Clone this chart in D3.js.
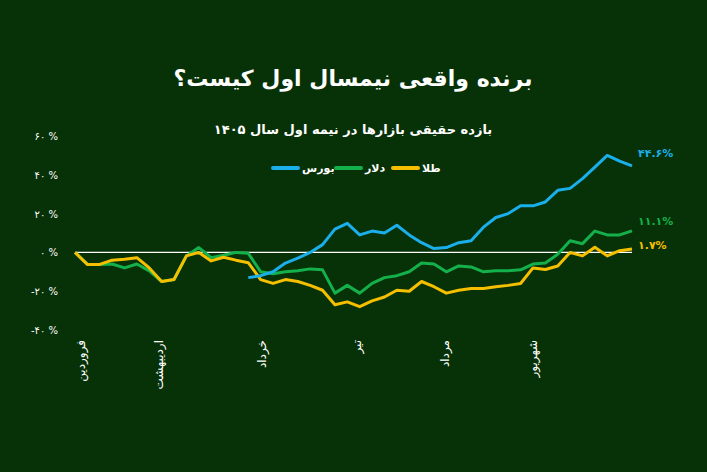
<!DOCTYPE html>
<html><head><meta charset="utf-8">
<script src="https://cdn.jsdelivr.net/npm/d3@7"></script>
<style>body{margin:0;background:#073106;}svg{display:block;font-family:"DejaVu Sans",sans-serif;}</style>
</head><body><svg id="c" width="707" height="472"></svg>
<script>
const gold=[0,-6.2,-6.2,-4,-3.5,-2.7,-8,-15,-14,-1.8,0,-4.4,-2.5,-4,-5.3,-14,-16,-14,-15,-17,-19.5,-27,-25.5,-28,-25,-23,-19.5,-20,-15,-17.7,-21,-19.5,-18.6,-18.6,-17.7,-17,-16,-8,-8.8,-7,0,-1.8,2.7,-1.8,0.9,1.7];
const dollar=[0,-6.2,-6.2,-6,-8,-6,-9.5,-15,-14,-1.8,2.5,-2.7,-1.5,0,-0.5,-10,-11,-10,-9.5,-8.5,-9,-21,-17,-21,-16,-13,-12,-10,-5.5,-6,-10,-7,-7.5,-10,-9.5,-9.5,-9,-6,-5.5,-1,6,4.5,11,9,9,11.1];
const bourseStart=14;
const bourse=[-13,-12,-10,-5.5,-3,0,4,12,15,9,11,10,14,9,5,2,2.5,5,6,13,18,20,24,24,26,32,33,38,44,50,47,44.6];
const yTicks=[60,40,20,0,-20,-40];
const months=[{n:"فروردین",i:0.5},{n:"اردیبهشت",i:6.8},{n:"خرداد",i:15.1},{n:"تیر",i:22.8},{n:"مرداد",i:29.9},{n:"شهریور",i:37.0}];
const fa=s=>String(s).replace(/\d/g,d=>"۰۱۲۳۴۵۶۷۸۹"[d]);
const svg=d3.select("#c");
svg.append("rect").attr("width",707).attr("height",472).attr("fill","#073106");
const x=d3.scaleLinear().domain([0,45]).range([75,632]);
const y=d3.scaleLinear().domain([-40,60]).range([330,136]);
svg.append("text").attr("x",353).attr("y",86).attr("text-anchor","middle").attr("fill","#fff").attr("font-size",22).attr("font-weight","bold").text("برنده واقعی نیمسال اول کیست؟");
svg.append("text").attr("x",353).attr("y",134).attr("text-anchor","middle").attr("fill","#fff").attr("font-size",13).attr("font-weight","bold").text("بازده حقیقی بازارها در نیمه اول سال ۱۴۰۵");
yTicks.forEach(t=>svg.append("text").attr("x",58).attr("y",y(t)+4).attr("text-anchor","end").attr("fill","#fff").attr("font-size",10).text((t<0?"-":"")+fa(Math.abs(t))+" %"));
svg.append("line").attr("x1",x(0)).attr("x2",x(45)).attr("y1",y(0)).attr("y2",y(0)).attr("stroke","#fff").attr("stroke-width",1.2);
months.forEach(m=>svg.append("text").attr("transform",`translate(${x(m.i)+4},340) rotate(-90)`).attr("text-anchor","end").attr("fill","#fff").attr("font-size",12).text(m.n));
const line=d3.line().x(d=>x(d[0])).y(d=>y(d[1])).curve(d3.curveLinear);
const series=[
 {d:dollar.map((v,i)=>[i,v]),c:"#14b04c",lab:"۱۱.۱%"},
 {d:gold.map((v,i)=>[i,v]),c:"#f5bf00",lab:"۱.۷%"},
 {d:bourse.map((v,i)=>[i+bourseStart,v]),c:"#1aaeea",lab:"۴۴.۶%"}];
series.forEach(s=>svg.append("path").attr("d",line(s.d)).attr("fill","none").attr("stroke",s.c).attr("stroke-width",3).attr("stroke-linejoin","round"));
series.forEach(s=>{const l=s.d[s.d.length-1];svg.append("text").attr("x",x(l[0])+6).attr("y",y(l[1])+(s.c=="#14b04c"?-6:(s.c=="#1aaeea"?-9:0))).attr("fill",s.c).attr("font-size",11).attr("font-weight","bold").text(s.lab);});
const leg=[{n:"بورس",c:"#1aaeea",x:271},{n:"دلار",c:"#14b04c",x:334},{n:"طلا",c:"#f5bf00",x:391}];
leg.forEach(l=>{svg.append("line").attr("x1",l.x+2).attr("x2",l.x+27).attr("y1",168).attr("y2",168).attr("stroke",l.c).attr("stroke-width",4).attr("stroke-linecap","round");
svg.append("text").attr("x",l.x+31).attr("y",172).attr("fill","#fff").attr("font-size",11).attr("font-weight","bold").attr("text-anchor","start").text(l.n);});
</script></body></html>
